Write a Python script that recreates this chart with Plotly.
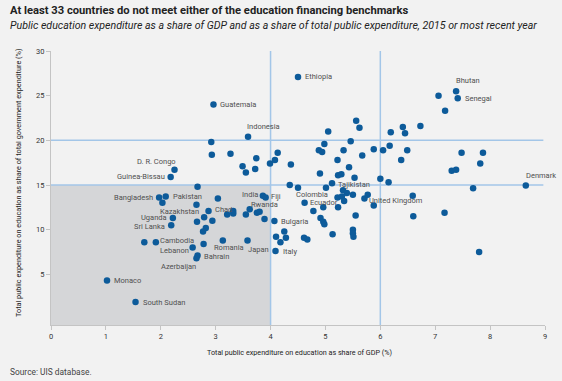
import plotly.graph_objects as go

# ---- data ----
countries = [
    "Ethiopia", "Guatemala", "Bhutan", "Senegal", "Indonesia", "D. R. Congo", "Guinea-Bissau",
    "Denmark", "Bangladesh", "Pakistan", "India", "Fiji", "Tajikistan", "Kazakhstan", "Chad",
    "Rwanda", "Colombia", "Ecuador", "United Kingdom", "Uganda", "Sri Lanka", "Bulgaria",
    "Cambodia", "Lebanon", "Romania", "Japan", "Bahrain", "Azerbaijan", "Italy", "Monaco",
    "South Sudan",
]
labelled_gdp = [4.50, 2.96, 7.38, 7.41, 3.59, 2.25, 2.18, 8.65, 1.97, 2.09, 3.86, 3.91, 5.12,
                2.79, 2.87, 3.62, 4.62, 4.96, 5.88, 2.22, 2.19, 4.07, 1.91, 2.58, 3.13, 3.58,
                2.67, 2.65, 4.09, 1.02, 1.54]
labelled_share = [27.1, 24.0, 25.5, 24.7, 20.4, 16.7, 15.9, 14.95, 13.6, 13.7, 13.8, 13.6, 15.2,
                  11.4, 12.1, 12.3, 13.0, 12.5, 12.7, 11.3, 10.5, 10.96, 8.6, 8.0, 8.8, 8.8,
                  7.1, 6.8, 7.6, 4.3, 1.9]

other_gdp = [2.92, 2.93, 3.27, 3.49, 3.55, 3.72, 3.74, 3.99, 4.08, 4.13, 4.37,
             2.67, 2.03, 3.04, 2.65, 2.66, 2.94, 2.82, 2.77, 3.21, 3.32, 3.32, 3.55, 3.75, 3.80, 3.89,
             1.70, 2.78,
             4.10, 4.25, 4.28, 4.18, 4.61, 4.67, 4.78, 4.91, 4.96, 4.98, 5.13, 5.50, 5.50, 5.51,
             5.22, 5.30, 5.34, 5.23, 5.32, 5.39, 5.50, 5.55, 5.71, 5.77,
             6.59, 6.60, 7.17, 7.80, 7.69,
             4.35, 4.50, 5.01, 6.00, 6.15,
             4.90, 5.23, 5.29, 5.53, 5.43, 5.22,
             7.06, 7.18, 5.56, 5.62, 5.05, 6.19, 6.41, 6.45, 6.73, 5.46, 4.98, 4.88, 4.94, 5.33,
             5.88, 6.05, 6.17, 6.49, 5.67, 6.38, 7.48, 7.87, 7.82, 7.30, 7.38]
other_share = [19.8, 18.4, 18.5, 17.1, 16.4, 16.8, 18.0, 17.4, 17.8, 18.6, 17.3,
               14.8, 13.0, 13.5, 12.8, 10.9, 11.0, 10.2, 9.8, 11.7, 12.1, 11.8, 11.7, 11.9, 12.0, 11.2,
               8.6, 8.4,
               9.2, 9.8, 9.1, 8.6, 9.1, 8.9, 12.1, 11.3, 10.9, 10.6, 9.5, 10.0, 9.6, 9.2,
               13.6, 13.7, 13.2, 12.5, 14.4, 14.1, 13.9, 11.6, 13.5, 13.9,
               13.8, 11.5, 11.9, 7.5, 14.65,
               15.0, 14.7, 14.7, 15.7, 15.3,
               16.3, 16.1, 16.2, 15.8, 17.0, 17.8,
               25.0, 23.3, 22.2, 21.4, 21.0, 20.9, 21.5, 20.8, 21.6, 19.9, 19.6, 18.9, 18.7, 18.9,
               19.0, 18.9, 19.4, 18.9, 18.3, 17.8, 18.6, 18.6, 17.4, 16.6, 16.7]

x_ticks = [0, 1, 2, 3, 4, 5, 6, 7, 8, 9]
y_ticks = [5, 10, 15, 20, 25, 30]
gdp_benchmark = [4, 6]
share_benchmark = [15, 20]

# label placement: (xanchor, xshift px, yshift px)
label_pos = {
    "Ethiopia": ("left", 5, 0), "Guatemala": ("left", 5, 0), "Bhutan": ("left", -2, 11),
    "Senegal": ("left", 5, 0), "Indonesia": ("left", -3, 10), "D. R. Congo": ("right", 3, 8),
    "Guinea-Bissau": ("right", -4, 0), "Denmark": ("left", -2, 10), "Bangladesh": ("right", -4, 0),
    "Pakistan": ("left", 5, 0), "India": ("right", -3, 1), "Fiji": ("left", 3, 1),
    "Tajikistan": ("left", 4, -1), "Kazakhstan": ("right", -3, 6), "Chad": ("left", 4, 1),
    "Rwanda": ("left", -1, 5), "Colombia": ("center", 7, 8), "Ecuador": ("center", 1, 5),
    "United Kingdom": ("left", -7, 5), "Uganda": ("right", -4, 1), "Sri Lanka": ("right", -4, -1),
    "Bulgaria": ("left", 5, 0), "Cambodia": ("left", 2, 2), "Lebanon": ("right", -2, -3),
    "Romania": ("center", 6, -7), "Japan": ("left", -2, -9), "Bahrain": ("left", 4, -1),
    "Azerbaijan": ("right", 2, -8), "Italy": ("left", 5, 0), "Monaco": ("left", 5, 0),
    "South Sudan": ("left", 5, 0),
}

FONT = "Roboto, sans-serif"
DOT = "#0d5b9a"
REF = "#a3c6e8"
YMIN = -0.67

fig = go.Figure()

fig.add_shape(type="rect", xref="x", yref="y", x0=0, x1=gdp_benchmark[0], y0=YMIN, y1=share_benchmark[0],
              fillcolor="#d5d6d8", line_width=0, layer="below")
for yv in share_benchmark:
    fig.add_shape(type="line", xref="x", yref="y", x0=0, x1=8.97, y0=yv, y1=yv,
                  line=dict(color=REF, width=1.5), layer="below")
for xv in gdp_benchmark:
    fig.add_shape(type="line", xref="x", yref="y", x0=xv, x1=xv, y0=YMIN, y1=30,
                  line=dict(color=REF, width=1.5), layer="below")

fig.add_trace(go.Scatter(x=other_gdp + labelled_gdp, y=other_share + labelled_share,
                         mode="markers", marker=dict(color=DOT, size=6.5, line_width=0),
                         hoverinfo="skip", showlegend=False))

for name, xv, yv in zip(countries, labelled_gdp, labelled_share):
    anc, xs, ys = label_pos[name]
    fig.add_annotation(x=xv, y=yv, text=name, showarrow=False, xanchor=anc, yanchor="middle",
                       xshift=xs, yshift=ys, font=dict(family=FONT, size=7.5, color="#505050"))

fig.update_xaxes(range=[0, 9], tickvals=x_ticks, ticktext=[str(t) for t in x_ticks],
                 showgrid=False, zeroline=False, showline=True, linecolor="#c4c4c4", linewidth=1,
                 ticks="outside", ticklen=4, tickcolor="#c4c4c4",
                 tickfont=dict(family=FONT, size=7.5, color="#333"))
fig.update_yaxes(range=[YMIN, 30], tickvals=y_ticks, ticktext=[str(t) for t in y_ticks],
                 showgrid=False, zeroline=False, showline=True, linecolor="#c4c4c4", linewidth=1,
                 ticks="outside", ticklen=4, tickcolor="#c4c4c4",
                 tickfont=dict(family=FONT, size=7.5, color="#333"))

L, R, T, B = 51, 17, 51, 56
PW, PH = 562 - L - R, 381 - T - B

def px(xp):
    return (xp - L) / PW

def py(yp):
    return (381 - B - yp) / PH

fig.add_annotation(xref="paper", yref="paper", x=px(8), y=py(10), xanchor="left", yanchor="middle",
                   text="<b>At least 33 countries do not meet either of the education financing benchmarks</b>",
                   showarrow=False, font=dict(family=FONT, size=11.2, color="#222"))
fig.add_annotation(xref="paper", yref="paper", x=px(8), y=py(26), xanchor="left", yanchor="middle",
                   text="<i>Public education expenditure as a share of GDP and as a share of total public expenditure, 2015 or most recent year</i>",
                   showarrow=False, font=dict(family=FONT, size=10.6, color="#222"))
fig.add_annotation(xref="paper", yref="paper", x=px(299), y=py(352), xanchor="center", yanchor="middle",
                   text="Total public expenditure on education as share of GDP (%)",
                   showarrow=False, font=dict(family=FONT, size=7.2, color="#222"))
fig.add_annotation(xref="paper", yref="paper", x=px(18), y=py(183), xanchor="center", yanchor="middle",
                   text="Total public expenditure on education as share of total government expenditure (%)",
                   textangle=-90, showarrow=False, font=dict(family=FONT, size=7.3, color="#222"))
fig.add_annotation(xref="paper", yref="paper", x=px(8), y=py(372), xanchor="left", yanchor="middle",
                   text="Source: UIS database.", showarrow=False,
                   font=dict(family=FONT, size=8.4, color="#444"))

fig.update_layout(width=562, height=381, margin=dict(l=L, r=R, t=T, b=B),
                  paper_bgcolor="#f2f2f2", plot_bgcolor="#f2f2f2", showlegend=False)

fig.write_html("out.html", config={"displayModeBar": False},
               post_script="document.body.style.margin='0';document.body.style.background='#f2f2f2';")
